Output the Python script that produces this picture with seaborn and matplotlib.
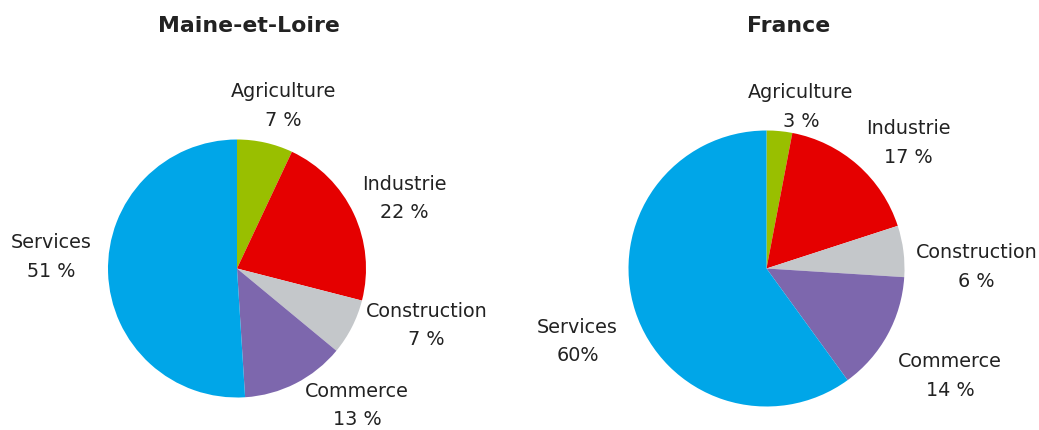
import matplotlib
matplotlib.use("Agg")
import matplotlib.pyplot as plt
import numpy as np
import seaborn as sns

sns.set_theme(style="white")
plt.rcParams['font.family'] = ['DejaVu Sans']

sectors = ['Agriculture', 'Industrie', 'Construction', 'Commerce', 'Services']
maine_values = [7, 22, 7, 13, 51]
maine_labels = ['7 %', '22 %', '7 %', '13 %', '51 %']
france_values = [3, 17, 6, 14, 60]
france_labels = ['3 %', '17 %', '6 %', '14 %', '60%']
titles = ['Maine-et-Loire', 'France']

colors = ['#99BF00', '#E50000', '#C4C7CA', '#7D67AD', '#00A6E8']

# where each label block sits, in pie-radius units from the centre
maine_pos = [(0.36, 1.26), (1.30, 0.54), (1.47, -0.44), (0.93, -1.06), (-1.44, 0.09)]
france_pos = [(0.25, 1.17), (1.03, 0.91), (1.52, 0.01), (1.33, -0.78), (-1.37, -0.53)]

W, H = 1039, 430
fig = plt.figure(figsize=(W / 100, H / 100), dpi=100)

# pie centre (px) and radius (px)
layout = [((237, 268.5), 129), ((766.5, 268.5), 138)]
title_x = [249, 789]

for i, (vals, pcts, pos) in enumerate([(maine_values, maine_labels, maine_pos),
                                        (france_values, france_labels, france_pos)]):
    (cx, cy), r = layout[i]
    ax = fig.add_axes([(cx - r) / W, (H - cy - r) / H, 2 * r / W, 2 * r / H])
    ax.pie(vals, colors=colors, startangle=90, counterclock=False,
           wedgeprops=dict(linewidth=0))
    ax.set_xlim(-1, 1)
    ax.set_ylim(-1, 1)
    ax.set_axis_off()
    for name, pct, (x, y) in zip(sectors, pcts, pos):
        ax.text(x, y, name + '\n' + pct, ha='center', va='center',
                fontsize=13.8, color='#222222', linespacing=1.62)
    fig.text(title_x[i] / W, 1 - 26 / H, titles[i], ha='center', va='center',
             fontsize=15.8, fontweight='bold', color='#222222')

fig.savefig('out.png', dpi=100)
